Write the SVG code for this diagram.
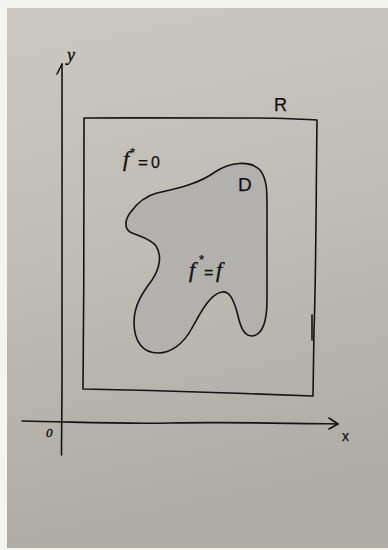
<svg xmlns="http://www.w3.org/2000/svg" width="388" height="550" viewBox="0 0 388 550">
<defs>
<linearGradient id="paper" x1="0" y1="0" x2="0.15" y2="1">
<stop offset="0" stop-color="#cbc8c1"/>
<stop offset="0.5" stop-color="#bfbcb5"/>
<stop offset="1" stop-color="#aeaba5"/>
</linearGradient>
<style>
.ink{fill:none;stroke:#141414;stroke-width:1.6;stroke-linecap:round;stroke-linejoin:round}
.lbl{font-family:"Liberation Sans",Arial,sans-serif;fill:#111111;stroke:#111111;stroke-width:0.25}
.fn{font-family:"Liberation Serif","Times New Roman",serif;font-style:italic;fill:#111111;stroke:#111111;stroke-width:0.4}
</style>
</defs>
<rect x="0" y="0" width="388" height="550" fill="#f4f4f2"/>
<rect x="7" y="8" width="381" height="540" fill="url(#paper)"/>

<g id="connectors">
<path id="y-axis" class="ink" d="M62,64 C62.5,150 61.5,250 62,330 C62.3,400 61.5,430 61.5,455"/>
<path id="y-arrow" class="ink" d="M57,74 L62,64"/>
<path id="x-axis" class="ink" d="M22,421 C80,422 120,424 170,423 C230,422 280,423 338,424"/>
<path id="x-arrow" class="ink" d="M329,418 L338,424 L329,429"/>
</g>

<g id="R">
<path class="ink" d="M84,118 C140,117.5 200,118.5 250,118 C275,117.5 290,119 317,120 C316,200 316,280 314,330 L313,396 C260,394 200,392 150,390.5 L83,389 C84,300 84,200 84,118 Z"/>
<path class="ink" d="M312,315 L312,340" stroke-width="1.2"/>
<text class="lbl" x="274" y="111" font-size="18">R</text>
</g>

<g id="D">
<path d="M157,193 C180,188 200,183 215,172 C230,162 250,160 260,170 C268,180 267,195 267,215 L267,300 C267,320 263,335 252,336 C243,336 240,325 237,312 C233,298 229,291 222,292 C210,294 201,312 192,328 C183,345 170,353 158,353 C143,353 134,342 134,322 C134,305 143,292 152,280 C160,268 162,255 156,246 C150,238 138,236 130,232 C124,228 125,220 130,213 C137,203 145,196 157,193 Z" fill="#b3b1ad" stroke="#141414" stroke-width="1.6"/>
<text class="lbl" x="238" y="191" font-size="19">D</text>
</g>

<g id="label-fstar-0">
<text class="fn" x="123" y="166" font-size="22">f</text>
<text class="lbl" x="130" y="157" font-size="13">*</text>
<text class="lbl" x="138" y="168" font-size="17">=</text>
<text class="lbl" x="151" y="168" font-size="16">0</text>
</g>

<g id="label-fstar-f">
<text class="fn" x="189" y="277" font-size="22">f</text>
<text class="lbl" x="199" y="264" font-size="13">*</text>
<text class="lbl" x="204" y="278" font-size="16">=</text>
<text class="fn" x="216" y="277" font-size="22">f</text>
</g>

<g id="axis-labels">
<text class="fn" x="67" y="61" font-size="18">y</text>
<text class="fn" x="46" y="437" font-size="13">0</text>
<text class="lbl" x="342" y="441" font-size="14">x</text>
</g>
</svg>
